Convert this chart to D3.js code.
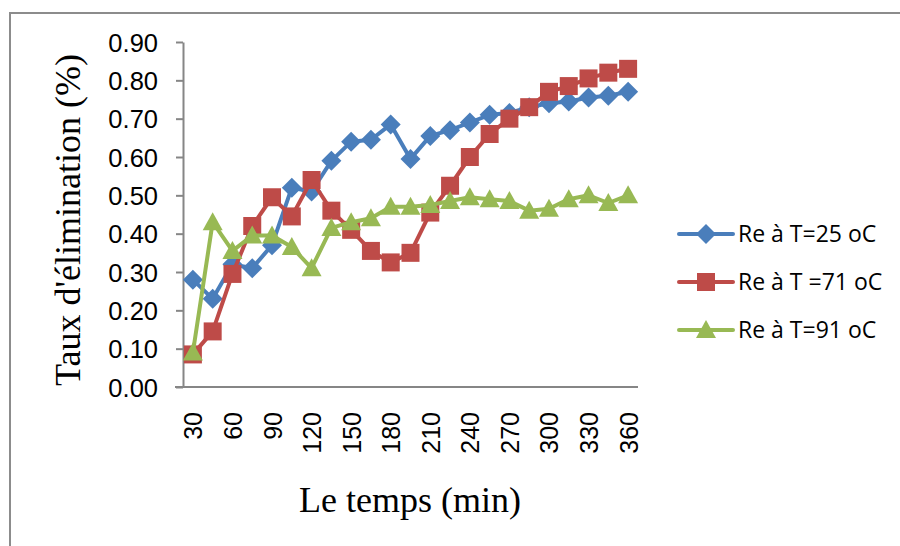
<!DOCTYPE html>
<html>
<head>
<meta charset="utf-8">
<script src="https://cdn.jsdelivr.net/npm/d3@7"></script>
<style>
  html, body { margin: 0; padding: 0; background: #fff; }
  svg { display: block; }
</style>
</head>
<body>
<svg id="chart" width="900" height="546"></svg>
<script>
// Sampling times (min)
const times = [30, 45, 60, 75, 90, 105, 120, 135, 150, 165, 180, 195, 210, 225, 240, 255, 270, 285, 300, 315, 330, 345, 360];

// Removal rate for each temperature
const re25 = [0.28, 0.23, 0.32, 0.31, 0.37, 0.52, 0.51, 0.59, 0.64, 0.645, 0.685, 0.595, 0.655, 0.67, 0.69, 0.71, 0.715, 0.73, 0.74, 0.745, 0.755, 0.76, 0.77];
const re71 = [0.085, 0.145, 0.295, 0.42, 0.495, 0.445, 0.54, 0.46, 0.41, 0.355, 0.325, 0.35, 0.455, 0.525, 0.60, 0.66, 0.70, 0.73, 0.77, 0.785, 0.805, 0.82, 0.83];
const re91 = [0.09, 0.43, 0.355, 0.395, 0.395, 0.365, 0.31, 0.415, 0.43, 0.44, 0.47, 0.47, 0.475, 0.485, 0.495, 0.49, 0.485, 0.46, 0.465, 0.49, 0.50, 0.48, 0.50];

const seriesNames = ["Re à T=25 oC", "Re à T =71 oC", "Re à T=91 oC"];
const seriesColors = ["#4A7EBB", "#BE4B48", "#98B954"];
const seriesShapes = ["diamond", "square", "triangle"];

const yTicks = [0, 0.1, 0.2, 0.3, 0.4, 0.5, 0.6, 0.7, 0.8, 0.9];
const xTickLabels = [30, 60, 90, 120, 150, 180, 210, 240, 270, 300, 330, 360];

const series = [re25, re71, re91].map((vals, i) => ({
  name: seriesNames[i], color: seriesColors[i], shape: seriesShapes[i],
  values: vals.map((v, j) => ({ t: times[j], v }))
}));

const svg = d3.select("#chart");

// Outer chart frame
svg.append("path")
  .attr("d", "M10,546 V13 H900")
  .attr("fill", "none").attr("stroke", "#8c8c8c").attr("stroke-width", 2);

const plot = { left: 183, right: 638, top: 42, bottom: 387 };

const x = d3.scalePoint().domain(times).range([plot.left, plot.right]).padding(0.5);
const y = d3.scaleLinear().domain([0, 0.9]).range([plot.bottom, plot.top]);

// Y axis
const yAxis = svg.append("g")
  .attr("transform", `translate(${plot.left},0)`)
  .call(d3.axisLeft(y).tickValues(yTicks).tickFormat(d3.format(".2f")).tickSize(7).tickSizeOuter(0).tickPadding(18));
yAxis.select(".domain").attr("stroke", "#868686").attr("stroke-width", 2);
yAxis.selectAll(".tick line").attr("stroke", "#868686").attr("stroke-width", 2);
yAxis.selectAll(".tick text")
  .attr("fill", "#000").attr("font-family", "'Liberation Sans', Arial, sans-serif").attr("font-size", 25.5)
  .attr("dy", "0.36em");

// X axis
const xAxis = svg.append("g")
  .attr("transform", `translate(0,${plot.bottom})`)
  .call(d3.axisBottom(x).tickValues(xTickLabels).tickSize(0).tickSizeOuter(0).tickPadding(0));
xAxis.select(".domain").attr("d", `M${plot.left - 8},0H${plot.right}`).attr("stroke", "#868686").attr("stroke-width", 2);
xAxis.selectAll(".tick text")
  .attr("fill", "#000").attr("font-family", "'Liberation Sans', Arial, sans-serif").attr("font-size", 25)
  .attr("transform", "rotate(-90)")
  .attr("text-anchor", "end")
  .attr("x", -25).attr("y", 0).attr("dy", "0.36em");

// Axis titles
svg.append("text")
  .attr("transform", "translate(80,220) rotate(-90)")
  .attr("text-anchor", "middle")
  .attr("font-family", "'Liberation Serif', 'Times New Roman', serif").attr("font-size", 36)
  .text("Taux d'élimination (%)");

svg.append("text")
  .attr("x", 410).attr("y", 512)
  .attr("text-anchor", "middle")
  .attr("font-family", "'Liberation Serif', 'Times New Roman', serif").attr("font-size", 36)
  .text("Le temps (min)");

// Marker shapes
function markerPath(shape) {
  if (shape === "diamond") return "M0,-10L10,0L0,10L-10,0Z";
  if (shape === "square") return "M-9,-9H9V9H-9Z";
  return "M0,-10L10,8H-10Z";
}

const line = d3.line().x(d => x(d.t)).y(d => y(d.v));

series.forEach(s => {
  const g = svg.append("g");
  g.append("path")
    .datum(s.values)
    .attr("d", line)
    .attr("fill", "none").attr("stroke", s.color).attr("stroke-width", 4)
    .attr("stroke-linejoin", "round");
  g.selectAll("path.marker")
    .data(s.values)
    .join("path")
    .attr("class", "marker")
    .attr("transform", d => `translate(${x(d.t)},${y(d.v)})`)
    .attr("d", markerPath(s.shape))
    .attr("fill", s.color);
});

// Legend
const legend = svg.append("g");
const legendY = [234, 282, 330];
series.forEach((s, i) => {
  const g = legend.append("g").attr("transform", `translate(0,${legendY[i]})`);
  g.append("line").attr("x1", 679).attr("x2", 733).attr("y1", 0).attr("y2", 0)
    .attr("stroke", s.color).attr("stroke-width", 4).attr("stroke-linecap", "round");
  g.append("path").attr("transform", "translate(706,0)")
    .attr("d", markerPath(s.shape)).attr("fill", s.color);
  g.append("text").attr("x", 738).attr("y", 0).attr("dy", "0.35em")
    .attr("font-family", "'Open Sans', 'Noto Sans', sans-serif").attr("font-size", 23)
    .attr("fill", "#000")
    .text(s.name);
});
</script>
</body>
</html>
